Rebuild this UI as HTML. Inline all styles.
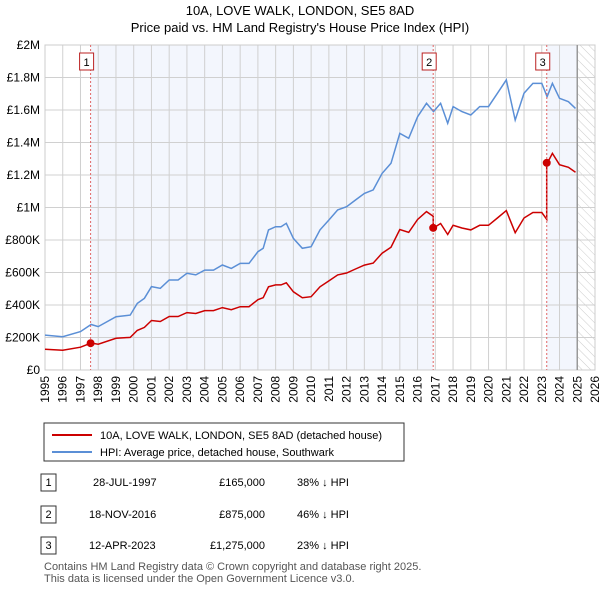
<!DOCTYPE html>
<html><head><meta charset="utf-8"><style>
body{margin:0;background:#fff;font-family:"Liberation Sans",sans-serif;}
svg text{font-family:"Liberation Sans",sans-serif;}
</style></head><body>
<svg width="600" height="590" xmlns="http://www.w3.org/2000/svg">
<defs><pattern id="hatch" width="6" height="6" patternUnits="userSpaceOnUse" patternTransform="rotate(-45)"><line x1="0" y1="0" x2="0" y2="6" stroke="#ccc" stroke-width="1"/></pattern></defs>
<text x="300" y="15" text-anchor="middle" font-size="13">10A, LOVE WALK, LONDON, SE5 8AD</text>
<text x="300" y="32" text-anchor="middle" font-size="13">Price paid vs. HM Land Registry's House Price Index (HPI)</text>
<g id="plot"></g>
<g>
<rect x="44" y="423" width="360" height="38" fill="#fff" stroke="#333"/>
<line x1="52" y1="435" x2="92" y2="435" stroke="#cc0000" stroke-width="2"/>
<text x="100" y="439" font-size="11">10A, LOVE WALK, LONDON, SE5 8AD (detached house)</text>
<line x1="52" y1="452" x2="92" y2="452" stroke="#5b8fd6" stroke-width="2"/>
<text x="100" y="456" font-size="11">HPI: Average price, detached house, Southwark</text>
</g>
<g font-size="11">
<rect x="41" y="474" width="15" height="17" fill="#fff" stroke="#333"/><text x="48.5" y="486" text-anchor="middle">1</text>
<text x="93" y="486">28-JUL-1997</text><text x="265" y="486" text-anchor="end">£165,000</text><text x="297" y="486">38% ↓ HPI</text>
<rect x="41" y="506" width="15" height="17" fill="#fff" stroke="#333"/><text x="48.5" y="518" text-anchor="middle">2</text>
<text x="89" y="518">18-NOV-2016</text><text x="265" y="518" text-anchor="end">£875,000</text><text x="297" y="518">46% ↓ HPI</text>
<rect x="41" y="537" width="15" height="17" fill="#fff" stroke="#333"/><text x="48.5" y="549" text-anchor="middle">3</text>
<text x="89" y="549">12-APR-2023</text><text x="265" y="549" text-anchor="end">£1,275,000</text><text x="297" y="549">23% ↓ HPI</text>
</g>
<text x="44" y="570" font-size="11" fill="#555">Contains HM Land Registry data © Crown copyright and database right 2025.</text>
<text x="44" y="582" font-size="11" fill="#555">This data is licensed under the Open Government Licence v3.0.</text>
</svg>
<script>
const hpiYears=[1995,1996,1997,1997.6,1998,1999,1999.8,2000.2,2000.6,2001,2001.5,2002,2002.5,2003,2003.5,2004,2004.5,2005,2005.5,2006,2006.5,2007,2007.3,2007.6,2008,2008.3,2008.6,2009,2009.5,2010,2010.5,2011,2011.5,2012,2012.5,2013,2013.5,2014,2014.5,2015,2015.5,2016,2016.5,2016.9,2017.3,2017.7,2018,2018.5,2019,2019.5,2020,2020.5,2021,2021.5,2022,2022.5,2023,2023.3,2023.6,2024,2024.5,2024.9];
const hpiValues=[215,205,236,280,267,328,338,410,441,513,503,554,554,595,585,615,615,646,625,656,656,728,749,862,882,882,903,810,749,759,862,923,985,1005,1046,1087,1108,1210,1272,1456,1426,1559,1641,1590,1641,1518,1621,1590,1569,1621,1621,1703,1785,1538,1703,1764,1764,1682,1764,1672,1651,1610];
const saleYears=[1997.57,2016.88,2023.28];
const salePrices=[165,875,1275];
const saleLabels=["1","2","3"];
const yTicks=[0,200,400,600,800,1000,1200,1400,1600,1800,2000];
const yTickLabels=["£0","£200K","£400K","£600K","£800K","£1M","£1.2M","£1.4M","£1.6M","£1.8M","£2M"];
const xTicks=[];for(let y=1995;y<=2026;y++)xTicks.push(y);

const L=45,R=595,T=45,B=370,Y0=1995,Y1=2026,VMAX=2000;
const xs=y=>L+(y-Y0)/(Y1-Y0)*(R-L);
const ys=v=>B-v/VMAX*(B-T);
const NS="http://www.w3.org/2000/svg";
const g=document.getElementById('plot');
function mk(tag,attrs,parent){const e=document.createElementNS(NS,tag);for(const k in attrs)e.setAttribute(k,attrs[k]);(parent||g).appendChild(e);return e;}
function hpiAt(y){if(y<=hpiYears[0])return hpiValues[0];for(let i=1;i<hpiYears.length;i++){if(y<=hpiYears[i]){const t=(y-hpiYears[i-1])/(hpiYears[i]-hpiYears[i-1]);return hpiValues[i-1]+t*(hpiValues[i]-hpiValues[i-1]);}}return hpiValues[hpiValues.length-1];}
const endYear=2025;
let s=mk('rect',{x:xs(saleYears[0]),y:T,width:xs(saleYears[1])-xs(saleYears[0]),height:B-T,fill:'#f3f6fd'});

s=mk('rect',{x:xs(saleYears[2]),y:T,width:xs(endYear)-xs(saleYears[2]),height:B-T,fill:'#f3f6fd'});

s=mk('rect',{x:xs(endYear),y:T,width:R-xs(endYear),height:B-T,fill:'url(#hatch)'});

yTicks.forEach((v,i)=>{const l=mk('line',{x1:L,x2:R,y1:ys(v),y2:ys(v),stroke:'#d0d0d0'});

const t=mk('text',{x:L-5,y:ys(v)+4,'text-anchor':'end','font-size':'12'});t.textContent=yTickLabels[i];
});
xTicks.forEach(y=>{const l=mk('line',{x1:xs(y),x2:xs(y),y1:T,y2:B,stroke:'#d0d0d0'});

const t=mk('text',{x:0,y:0,'font-size':'12','text-anchor':'end',transform:`translate(${xs(y)+4},${B+6}) rotate(-90)`});t.textContent=y;
});
let el=mk('rect',{x:L,y:T,width:R-L,height:B-T,fill:'none',stroke:'#ccc'});

el=mk('line',{x1:xs(endYear),x2:xs(endYear),y1:T,y2:B,stroke:'#999',"stroke-width":1.5});

let d=hpiYears.map((y,i)=>(i?'L':'M')+xs(y).toFixed(1)+','+ys(hpiValues[i]).toFixed(1)).join('');
el=mk('path',{d:d,fill:'none',stroke:'#5b8fd6','stroke-width':1.5});

const ratios=saleYears.map((y,i)=>salePrices[i]/hpiAt(y));
let pts=[];
function seg(a,b,r){const ys_=[a];hpiYears.forEach(y=>{if(y>a&&y<b)ys_.push(y)});ys_.push(b);ys_.forEach(y=>pts.push([y,hpiAt(y)*r]));}
seg(hpiYears[0],saleYears[1],ratios[0]);
seg(saleYears[1],saleYears[2],ratios[1]);
seg(saleYears[2],hpiYears[hpiYears.length-1],ratios[2]);
d=pts.map((p,i)=>(i?'L':'M')+xs(p[0]).toFixed(1)+','+ys(p[1]).toFixed(1)).join('');
el=mk('path',{d:d,fill:'none',stroke:'#cc0000','stroke-width':1.5});

saleYears.forEach((y,i)=>{
const l=mk('line',{x1:xs(y),x2:xs(y),y1:T,y2:B,stroke:'#e06666','stroke-dasharray':'2,2'});

const c=mk('circle',{cx:xs(y),cy:ys(salePrices[i]),r:4,fill:'#cc0000'});

const r=mk('rect',{x:xs(y)-11,y:53,width:14,height:17,fill:'#fff',stroke:'#b22'});

const t=mk('text',{x:xs(y)-4,y:66,'text-anchor':'middle','font-size':'11'});t.textContent=saleLabels[i];

});
</script>
</body></html>
